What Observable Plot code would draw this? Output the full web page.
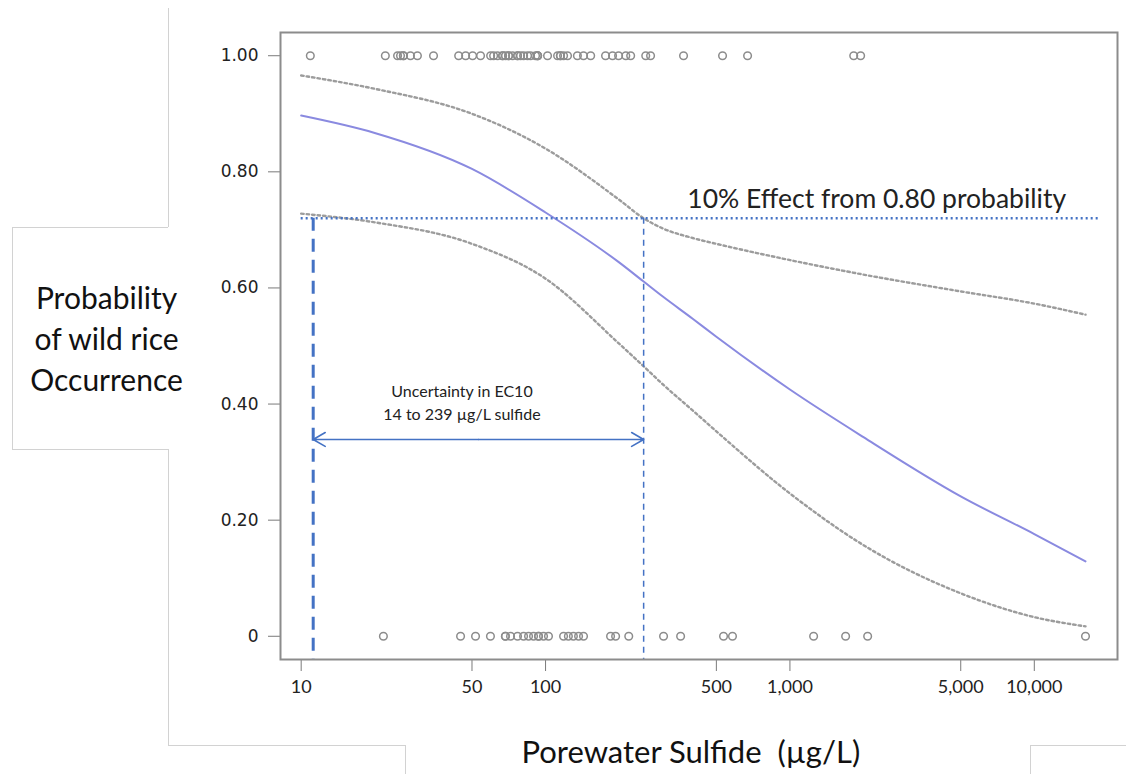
<!DOCTYPE html>
<html><head><meta charset="utf-8">
<script src="https://cdn.jsdelivr.net/npm/d3@7"></script>
<script src="https://cdn.jsdelivr.net/npm/@observablehq/plot@0.6"></script>
<style>
body{margin:0;background:#fff;}
#wrap{position:relative;width:1126px;height:774px;overflow:hidden;background:#fff;}
#wrap svg{position:absolute;left:0;top:0;}
.ln{position:absolute;background:#d2d2d2;}
</style></head><body><div id="wrap"></div>
<script>
// Curve sample points (porewater sulfide, µg/L)
const curveSulfide = [10, 20, 50, 100, 200, 252, 300, 400, 500, 1000, 2000, 5000, 10000, 16200];
const fitProb   = [0.897, 0.867, 0.805, 0.730, 0.644, 0.611, 0.586, 0.547, 0.516, 0.425, 0.343, 0.241, 0.176, 0.129];
const upperProb = [0.966, 0.943, 0.900, 0.840, 0.752, 0.720, 0.703, 0.686, 0.676, 0.648, 0.623, 0.594, 0.573, 0.554];
const lowerProb = [0.728, 0.713, 0.676, 0.616, 0.504, 0.465, 0.435, 0.389, 0.353, 0.246, 0.157, 0.074, 0.033, 0.017];

// Observed sites: wild rice present (1) and absent (0)
const presentSulfide = [10.9, 22.1, 24.8, 25.5, 26.2, 26.2, 28.0, 29.9, 34.8, 44.1, 47.1, 50.3, 54.2, 59.6, 61.3,
  63.6, 66.7, 66.7, 68.6, 70.6, 70.6, 73.3, 76.8, 76.8, 79.0, 81.3, 84.4, 86.8, 91.0, 92.8, 92.8, 92.8,
  101.9, 112, 115, 115, 118.5, 123, 135, 143, 153, 176, 188, 199, 213, 223, 257, 269, 367, 530, 671, 1824, 1947];
const absentSulfide = [21.7, 44.9, 51.7, 59.5, 68.5, 68.5, 71.9, 76.8, 81.3, 85.2, 89.3, 93.6, 93.6, 98.1, 102.8,
  118.5, 124, 130, 136.5, 143, 184.5, 193.5, 219, 304, 357, 535, 582, 1250, 1690, 2080, 16200];

const xTicks = [10, 50, 100, 500, 1000, 5000, 10000];
const yTicks = [0, 0.2, 0.4, 0.6, 0.8, 1];

const effectLevel = 0.72;
const ec10Low = 11.2;
const ec10High = 252;
const arrowLevel = 0.339;

const yTitle = "Probability\nof wild rice\nOccurrence";
const xTitle = "Porewater Sulfide \u00a0(\u00b5g/L)";
const effectLabel = "10% Effect from 0.80 probability";
const uncertaintyLabel = "Uncertainty in EC10\n14 to 239 \u00b5g/L sulfide";

const curveRows = curveSulfide.map((s, i) => ({s, fit: fitProb[i], up: upperProb[i], lo: lowerProb[i]}));
const pts = presentSulfide.map(s => ({s, p: 1})).concat(absentSulfide.map(s => ({s, p: 0})));
const mid = Math.sqrt(ec10Low * ec10High);
const fmtX = d3.format(",");

const blue = "#4472c4";
const sans = "Lato, 'Open Sans', sans-serif";

const chart = Plot.plot({
  width: 1126,
  height: 774,
  marginLeft: 280,
  marginRight: 9,
  marginTop: 32,
  marginBottom: 115,
  style: {background: "#fff"},
  x: {type: "log", domain: [8.23, 21900]},
  y: {domain: [-0.04, 1.04]},
  marks: [
    Plot.axisY(yTicks, {tickSize: 12, tickPadding: 10, stroke: "#7a7a7a", fill: "#222",
      tickFormat: d => d === 0 ? "0" : d.toFixed(2), fontSize: 17, fontFamily: "DejaVu Sans", label: null}),
    Plot.axisX(xTicks, {tickSize: 12, stroke: "#7a7a7a", tickFormat: () => "", label: null}),
    Plot.text(xTicks, {x: d => d, frameAnchor: "bottom", dy: 33, text: d => fmtX(d), fontSize: 18,
      fontFamily: sans, fill: "#222"}),
    Plot.dot(pts, {x: "s", y: "p", r: 3.8, stroke: "#8c8c8c", strokeWidth: 1.5, fill: "none"}),
    Plot.line(curveRows, {x: "s", y: "up", stroke: "#9c9c9c", strokeWidth: 2.4, strokeDasharray: "2.5,3", curve: "monotone-x"}),
    Plot.line(curveRows, {x: "s", y: "lo", stroke: "#9c9c9c", strokeWidth: 2.4, strokeDasharray: "2.5,3", curve: "monotone-x"}),
    Plot.line(curveRows, {x: "s", y: "fit", stroke: "#8a8ae0", strokeWidth: 2, curve: "monotone-x"}),
    Plot.ruleY([effectLevel], {x1: 10, x2: 18400, stroke: blue, strokeWidth: 2.5, strokeDasharray: "2,3"}),
    Plot.ruleX([ec10Low], {y1: effectLevel, y2: -0.04, stroke: blue, strokeWidth: 3, strokeDasharray: "13,8"}),
    Plot.ruleX([ec10High], {y1: effectLevel, y2: -0.04, stroke: blue, strokeWidth: 1.5, strokeDasharray: "6,5"}),
    Plot.arrow([{a: mid, b: ec10Low}, {a: mid, b: ec10High}], {x1: "a", x2: "b", y1: () => arrowLevel, y2: () => arrowLevel,
      stroke: blue, strokeWidth: 1.6, headLength: 13}),
    Plot.text([uncertaintyLabel], {x: () => 45.5, y: () => 0.405, text: d => d, fontSize: 16, lineHeight: 1.43,
      fontFamily: sans, fill: "#222"}),
    Plot.text([effectLabel], {x: () => 2265, y: () => 0.752, text: d => d, fontSize: 26.5, fontFamily: sans, fill: "#222"}),
    Plot.frame({stroke: "#8c8c8c", strokeWidth: 2}),
    Plot.text([yTitle], {y: () => 0.516, frameAnchor: "left", dx: -174, text: d => d, fontSize: 30, lineHeight: 1.36,
      fontFamily: sans, fill: "#111", textAnchor: "middle"}),
    Plot.text([xTitle], {x: () => 393, frameAnchor: "bottom", dy: 103, text: d => d, fontSize: 31,
      fontFamily: sans, fill: "#111"})
  ]
});
const wrap = document.getElementById("wrap");
wrap.appendChild(chart);
// light screenshot-box edges around the axis titles
const lines = [
  [168, 8, 1, 219], [12, 227, 156, 1], [12, 227, 1, 222], [12, 449, 156, 1], [168, 449, 1, 296],
  [168, 745, 237, 1], [405, 745, 1, 29], [1030, 745, 96, 1], [1030, 745, 1, 29]
];
for (const [l, t, w, h] of lines) {
  const d = document.createElement("div");
  d.className = "ln";
  Object.assign(d.style, {left: l + "px", top: t + "px", width: w + "px", height: h + "px"});
  wrap.appendChild(d);
}
</script></body></html>
